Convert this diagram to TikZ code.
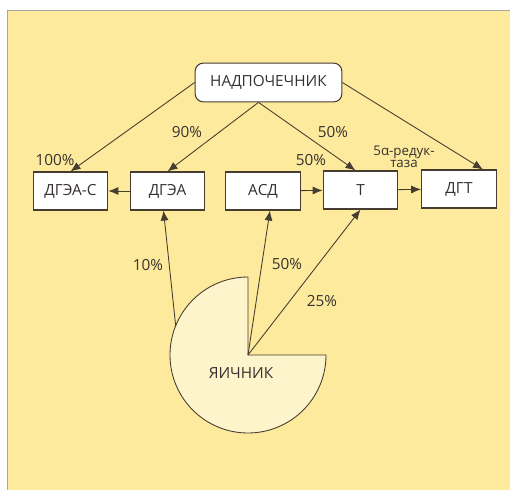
\documentclass[tikz,border=0pt]{standalone}
\usepackage{fontspec}
\setmainfont{Open Sans}
\usetikzlibrary{arrows.meta,calc,positioning}
\definecolor{bgyellow}{RGB}{253,234,156}
\definecolor{pieyellow}{RGB}{254,244,203}
\definecolor{inkline}{RGB}{70,60,48}
\definecolor{inktext}{RGB}{55,50,48}

\begin{document}
\begin{tikzpicture}[x=0.75pt, y=0.75pt,
    box/.style={draw=inkline, fill=white, line width=0.8pt, minimum width=56pt, minimum height=28.5pt, inner sep=1pt, text=inktext, font=\fontsize{11.5}{13}\selectfont},
    organ/.style={box, rounded corners=6pt, minimum width=110pt, minimum height=29pt},
    pct/.style={text=inktext, inner sep=0pt, font=\fontsize{11.5}{13}\selectfont},
    arr/.style={-{Latex[length=7.5pt, width=6pt]}, draw=inkline, line width=0.65pt}]
          \useasboundingbox (0,0) rectangle (510,490);
          \fill[white] (0,0) rectangle (510,490);
          \fill[bgyellow] (7,0) rectangle (510,480);
          \draw[gray!70, line width=0.6pt] (7,0) -- (7,480) -- (510,480);
          % boxes
          \node[organ] (adr) at (268.5,407.5) {НАДПОЧЕЧНИК};
          \node[box] (dheas) at (70.5,299) {ДГЭА-С};
          \node[box] (dhea) at (167.5,299) {ДГЭА};
          \node[box] (asd) at (263,299) {АСД};
          \node[box] (tst) at (360.5,300) {Т};
          \node[box] (dht) at (459,301) {ДГТ};
          % ovary
          \coordinate (ov) at (248,135);
          \draw[draw=inkline, fill=pieyellow, line width=0.65pt] (ov) -- ++(90:78) arc[start angle=90, end angle=360, radius=78] -- cycle;
          \node[pct] (ovtxt) at (241,117) {ЯИЧНИК};
          \coordinate (ovedge) at ($(ov)+(158:78)$);
          % arrows
          \draw[arr] (adr.west) -- (dheas.north);
          \draw[arr] ($(adr.south)+(-10,0)$) -- (dhea.north);
          \draw[arr] ($(adr.south)+(-10,0)$) -- ($(tst.north)+(-5,0)$);
          \draw[arr] (adr.east) -- ($(dht.north)+(24,0)$);
          \draw[arr] (dhea) -- (dheas);
          \draw[arr] (asd) -- (tst);
          \draw[arr] (tst) -- (dht);
          \draw[arr] (ovedge) -- ($(dhea.south)+(-4,0)$);
          \draw[arr] (ov) -- ($(asd.south)+(7,0)$);
          \draw[arr] (ov) -- (tst.south);
          % labels
          \node[pct] (l100) at (55,330) {100\%};
          \node[pct] (l90) at (187,358) {90\%};
          \node[pct] (l50a) at (333,358) {50\%};
          \node[pct] (l50b) at (311,330) {50\%};
          \node[pct, align=center, font=\fontsize{10}{7.8}\selectfont] (red) at (404,333) {5α-редук-\\таза};
          \node[pct] (l10) at (148,225) {10\%};
          \node[pct] (l50c) at (287,226) {50\%};
          \node[pct] (l25) at (322,189) {25\%};
        \end{tikzpicture}
\end{document}
